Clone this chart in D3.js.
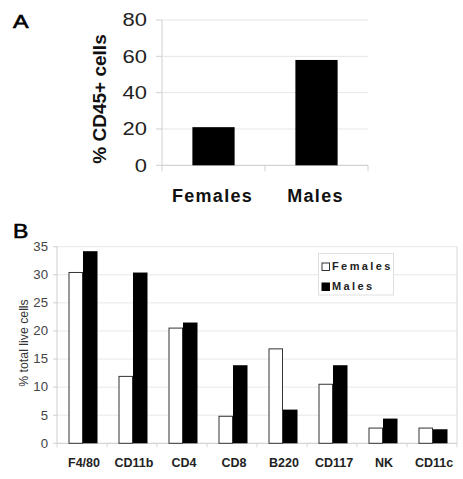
<!DOCTYPE html>
<html><head><meta charset="utf-8">
<script src="https://cdn.jsdelivr.net/npm/d3@7"></script>
<style>body{margin:0;background:#fff}svg{display:block}text{font-family:"Liberation Sans",Arial,sans-serif}</style>
</head><body>
<script>
// Panel A data
const groupsA = ["Females", "Males"];
const valuesA = [21, 58];
const ticksA = [0, 20, 40, 60, 80];

// Panel B data
const categoriesB = ["F4/80", "CD11b", "CD4", "CD8", "B220", "CD117", "NK", "CD11c"];
const femalesB = [30.5, 12.0, 20.6, 4.9, 16.9, 10.6, 2.8, 2.8];
const malesB = [34.2, 30.4, 21.5, 13.9, 6.0, 13.9, 4.4, 2.5];
const ticksB = [0, 5, 10, 15, 20, 25, 30, 35];
const seriesB = ["Females", "Males"];

const W = 463, H = 479;
const svg = d3.select("body").append("svg").attr("width", W).attr("height", H);

// ---------- Panel A ----------
const xA = d3.scaleBand().domain(groupsA).range([162, 368]).padding(0);
const yA = d3.scaleLinear().domain([0, 80]).range([165.3, 20]);
const gA = svg.append("g");
gA.selectAll("line.grid").data(ticksA.slice(1)).join("line")
  .attr("x1", 162).attr("x2", 368).attr("y1", d => yA(d)).attr("y2", d => yA(d))
  .attr("stroke", "#e6e6e6").attr("stroke-width", 1);
gA.append("line").attr("x1", 162).attr("x2", 162).attr("y1", yA(80)).attr("y2", yA(0)).attr("stroke", "#d0d0d0");
gA.selectAll("line.tk").data(ticksA).join("line")
  .attr("x1", 156).attr("x2", 162).attr("y1", d => yA(d)).attr("y2", d => yA(d)).attr("stroke", "#d0d0d0");
gA.append("line").attr("x1", 162).attr("x2", 368).attr("y1", yA(0)).attr("y2", yA(0)).attr("stroke", "#c8c8c8");
gA.selectAll("line.btk").data(xA.domain().map(d => xA(d)).concat([368])).join("line")
  .attr("x1", d => d).attr("x2", d => d).attr("y1", yA(0)).attr("y2", yA(0) + 6).attr("stroke", "#d0d0d0");
const bwA = xA.bandwidth() * 0.41;
gA.selectAll("rect").data(valuesA).join("rect")
  .attr("x", (d, i) => xA(groupsA[i]) + xA.bandwidth() / 2 - bwA / 2)
  .attr("width", bwA)
  .attr("y", d => yA(d)).attr("height", d => yA(0) - yA(d))
  .attr("fill", "#000");
gA.selectAll("text.tl").data(ticksA).join("text")
  .attr("x", 147).attr("y", d => yA(d)).attr("dy", "0.36em")
  .attr("text-anchor", "end").attr("font-size", 18).attr("fill", "#222")
  .attr("transform", `translate(147,0) scale(1.22,1) translate(-147,0)`)
  .text(d => d);
gA.selectAll("text.xl").data(groupsA).join("text")
  .attr("x", d => xA(d) + xA.bandwidth() / 2 - 1).attr("y", 202)
  .attr("text-anchor", "middle").attr("font-size", 18).attr("font-weight", "bold")
  .attr("letter-spacing", "1.3px").attr("fill", "#111")
  .text(d => d);
gA.append("text").attr("transform", "translate(106,99) rotate(-90)")
  .attr("text-anchor", "middle").attr("font-size", 19).attr("font-weight", "bold").attr("fill", "#111")
  .text("% CD45+ cells");
svg.append("text").attr("x", 13).attr("y", 28).attr("font-size", 18)
  .attr("transform", "translate(13,0) scale(1.3,1) translate(-13,0)")
  .attr("fill", "#000").attr("stroke", "#000").attr("stroke-width", 0.6).text("A");

// ---------- Panel B ----------
const xB = d3.scaleBand().domain(categoriesB).range([57, 457]).padding(0);
const yB = d3.scaleLinear().domain([0, 35]).range([443.3, 246.7]);
const gB = svg.append("g");
gB.selectAll("line.grid").data(ticksB.slice(1)).join("line")
  .attr("x1", 57).attr("x2", 457).attr("y1", d => yB(d)).attr("y2", d => yB(d))
  .attr("stroke", "#e8e8e8");
gB.append("line").attr("x1", 457).attr("x2", 457).attr("y1", yB(35)).attr("y2", yB(0)).attr("stroke", "#d8d8d8");
gB.append("line").attr("x1", 57).attr("x2", 57).attr("y1", yB(35)).attr("y2", yB(0)).attr("stroke", "#cfcfcf");
gB.selectAll("line.tk").data(ticksB).join("line")
  .attr("x1", 53).attr("x2", 57).attr("y1", d => yB(d)).attr("y2", d => yB(d)).attr("stroke", "#cfcfcf");
gB.append("line").attr("x1", 57).attr("x2", 457).attr("y1", yB(0)).attr("y2", yB(0)).attr("stroke", "#c8c8c8");
gB.selectAll("line.btk").data(categoriesB.map(d => xB(d)).concat([457])).join("line")
  .attr("x1", d => d).attr("x2", d => d).attr("y1", yB(0)).attr("y2", yB(0) + 4).attr("stroke", "#d8d8d8");

const bwB = xB.bandwidth() * 0.29;
const cx = c => xB(c) + xB.bandwidth() / 2 + 1;
gB.selectAll("rect.f").data(femalesB).join("rect")
  .attr("x", (d, i) => cx(categoriesB[i]) - bwB + 0.5).attr("width", bwB - 1)
  .attr("y", d => yB(d) + 0.5).attr("height", d => yB(0) - yB(d) - 0.5)
  .attr("fill", "#fff").attr("stroke", "#333").attr("stroke-width", 1);
gB.selectAll("rect.m").data(malesB).join("rect")
  .attr("x", (d, i) => cx(categoriesB[i])).attr("width", bwB)
  .attr("y", d => yB(d)).attr("height", d => yB(0) - yB(d))
  .attr("fill", "#000");

gB.selectAll("text.tl").data(ticksB).join("text")
  .attr("x", 48).attr("y", d => yB(d)).attr("dy", "0.36em")
  .attr("text-anchor", "end").attr("font-size", 12).attr("fill", "#444")
  .attr("transform", "translate(48,0) scale(1.1,1) translate(-48,0)")
  .text(d => d);
gB.selectAll("text.xl").data(categoriesB).join("text")
  .attr("x", d => xB(d) + xB.bandwidth() / 2 + 2).attr("y", 467)
  .attr("text-anchor", "middle").attr("font-size", 12.5).attr("font-weight", "bold").attr("fill", "#222")
  .text(d => d);
gB.append("text").attr("transform", "translate(28,343) rotate(-90)")
  .attr("text-anchor", "middle").attr("font-size", 12.3).attr("fill", "#333")
  .text("% total live cells");
svg.append("text").attr("x", 13).attr("y", 238).attr("font-size", 20)
  .attr("transform", "translate(13,0) scale(1.15,1) translate(-13,0)")
  .attr("fill", "#000").attr("stroke", "#000").attr("stroke-width", 0.6).text("B");

// legend
const lg = gB.append("g");
lg.append("rect").attr("x", 318.5).attr("y", 253.5).attr("width", 75).attr("height", 41.5)
  .attr("fill", "#fff").attr("stroke", "#e0e0e0");
const legFill = ["#fff", "#000"];
seriesB.forEach((s, i) => {
  const yy = 263.5 + i * 20;
  lg.append("rect").attr("x", 322).attr("y", yy - 0.5).attr("width", 7.5).attr("height", 7.5)
    .attr("fill", legFill[i]).attr("stroke", i === 0 ? "#333" : "#000");
  lg.append("text").attr("x", 332).attr("y", yy + 6.8).attr("font-size", 11).attr("font-weight", "bold")
    .attr("letter-spacing", "2.4px").attr("fill", "#222").text(s);
});
</script>
</body></html>
